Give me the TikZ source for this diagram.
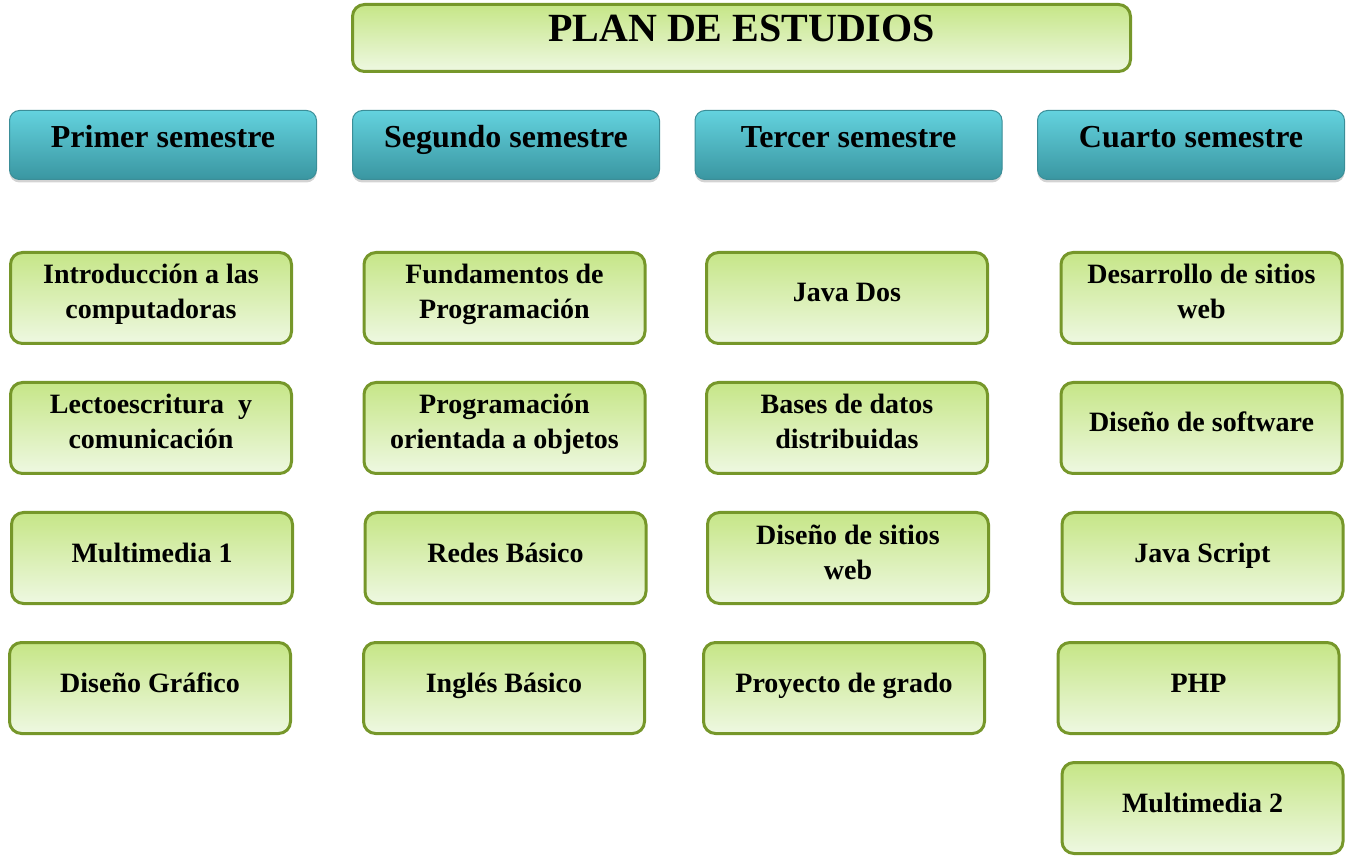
\documentclass[tikz,border=0pt]{standalone}
\usepackage{fontspec}
\setmainfont{Liberation Serif}
\usetikzlibrary{shadows}
\definecolor{gtop}{HTML}{C6E687}
\definecolor{gbot}{HTML}{EEF8E2}
\definecolor{gline}{HTML}{76972A}
\definecolor{ttop}{HTML}{63D2DE}
\definecolor{tmid}{HTML}{4DBFCB}
\definecolor{tbot}{HTML}{3A96A1}
\definecolor{tline}{HTML}{3B8E98}
\tikzset{
  gbox/.style={draw=gline, line width=3pt, rounded corners=12pt, top color=gtop, bottom color=gbot, minimum width=281pt, minimum height=91pt, inner sep=0pt},
  tbox/.style={draw=tline, line width=1pt, rounded corners=10pt, top color=ttop, middle color=tmid, bottom color=tbot, minimum width=307pt, minimum height=69pt, inner sep=0pt, drop shadow={shadow xshift=0pt, shadow yshift=-3pt, opacity=0.35}},
  gtext/.style={anchor=base, align=center, inner sep=0pt, font=\fontsize{28}{35}\selectfont\bfseries},
  ttext/.style={anchor=base, inner sep=0pt, font=\fontsize{32}{38}\selectfont\bfseries},
  titletext/.style={anchor=base, inner sep=0pt, font=\fontsize{40}{48}\selectfont\bfseries}
}
\begin{document}
\begin{tikzpicture}[x=1pt,y=-1pt]
\useasboundingbox (0,0) rectangle (1353,858);
% title
\node[gbox, minimum width=778pt, minimum height=67pt] (title) at (741.5,38) {};
\node[titletext] (titlet) at (741.5,42) {PLAN DE ESTUDIOS};
% headers
\node[tbox] (h1) at (163,145) {};
\node[tbox] (h2) at (506,145) {};
\node[tbox] (h3) at (848.5,145) {};
\node[tbox] (h4) at (1191,145) {};
\node[ttext] (h1t) at (163,148) {Primer semestre};
\node[ttext] (h2t) at (506,148) {Segundo semestre};
\node[ttext] (h3t) at (848.5,148) {Tercer semestre};
\node[ttext] (h4t) at (1191,148) {Cuarto semestre};
% column 1
\node[gbox] (a1) at (151,298) {};
\node[gbox] (a2) at (151,428) {};
\node[gbox] (a3) at (152,558) {};
\node[gbox] (a4) at (150,688) {};
\node[gtext] (a1t) at (151,319) {Introducción a las\\computadoras};
\node[gtext] (a2t) at (151,449) {Lectoescritura \ y\\comunicación};
\node[gtext] (a3t) at (152,562) {Multimedia 1};
\node[gtext] (a4t) at (150,692) {Diseño Gráfico};
% column 2
\node[gbox] (b1) at (504.5,298) {};
\node[gbox] (b2) at (504.5,428) {};
\node[gbox] (b3) at (505.5,558) {};
\node[gbox] (b4) at (504,688) {};
\node[gtext] (b1t) at (504.5,319) {Fundamentos de\\Programación};
\node[gtext] (b2t) at (504.5,449) {Programación\\orientada a objetos};
\node[gtext] (b3t) at (505.5,562) {Redes Básico};
\node[gtext] (b4t) at (504,692) {Inglés Básico};
% column 3
\node[gbox] (c1) at (847,298) {};
\node[gbox] (c2) at (847,428) {};
\node[gbox] (c3) at (848,558) {};
\node[gbox] (c4) at (844,688) {};
\node[gtext] (c1t) at (847,302) {Java Dos};
\node[gtext] (c2t) at (847,449) {Bases de datos\\distribuidas};
\node[gtext] (c3t) at (848,579) {Diseño de sitios\\web};
\node[gtext] (c4t) at (844,692) {Proyecto de grado};
% column 4
\node[gbox] (d1) at (1201.5,298) {};
\node[gbox] (d2) at (1201.5,428) {};
\node[gbox] (d3) at (1202.5,558) {};
\node[gbox] (d4) at (1198.5,688) {};
\node[gbox] (d5) at (1202.5,808) {};
\node[gtext] (d1t) at (1201.5,319) {Desarrollo de sitios\\web};
\node[gtext] (d2t) at (1201.5,432) {Diseño de software};
\node[gtext] (d3t) at (1202.5,562) {Java Script};
\node[gtext] (d4t) at (1198.5,692) {PHP};
\node[gtext] (d5t) at (1202.5,812) {Multimedia 2};
\end{tikzpicture}
\end{document}
